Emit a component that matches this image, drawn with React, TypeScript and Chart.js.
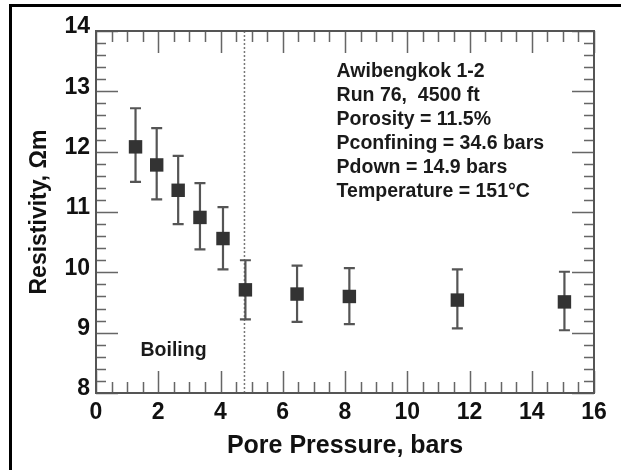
import React, { useEffect, useRef } from "react";
import { Chart, registerables } from "chart.js";

Chart.register(...registerables);

// ---- data ----
const xValues = [1.27, 1.95, 2.64, 3.34, 4.08, 4.8, 6.46, 8.14, 11.61, 15.05];
const yValues = [12.08, 11.78, 11.36, 10.91, 10.56, 9.71, 9.64, 9.6, 9.54, 9.51];
const yUpper = [12.72, 12.39, 11.93, 11.48, 11.08, 10.2, 10.11, 10.07, 10.05, 10.01];
const yLower = [11.5, 11.21, 10.8, 10.38, 10.05, 9.22, 9.18, 9.14, 9.07, 9.04];

const xRange = [0, 16];
const yRange = [8, 14];
const xMajorStep = 2;
const xMinorStep = 0.5;
const yMajorStep = 1;
const yMinorStep = 0.2;

const boilingX = 4.77;
const infoLines = [
  "Awibengkok 1-2",
  "Run 76,  4500 ft",
  "Porosity = 11.5%",
  "Pconfining = 34.6 bars",
  "Pdown = 14.9 bars",
  "Temperature = 151\u00B0C",
];
const infoAnchor = { x: 7.73, y: 13.33 };
const boilingLabel = "Boiling";
const boilingAnchor = { x: 1.43, y: 8.7 };

const FONT = "'Liberation Sans', Arial, Helvetica, sans-serif";

const decorPlugin = {
  id: "decor",
  beforeDatasetsDraw(chart: any) {
    const { ctx, chartArea, scales } = chart;
    const xs = scales.x;
    const ys = scales.y;
    const { left, right, top, bottom } = chartArea;
    ctx.save();

    // dotted boiling line
    ctx.strokeStyle = "#777";
    ctx.lineWidth = 1.5;
    ctx.setLineDash([2, 2]);
    const bx = xs.getPixelForValue(boilingX);
    ctx.beginPath();
    ctx.moveTo(bx, top);
    ctx.lineTo(bx, bottom);
    ctx.stroke();
    ctx.setLineDash([]);

    // ticks
    ctx.strokeStyle = "#666";
    ctx.lineWidth = 1.5;
    const majorLen = 22;
    const minorLen = 11;
    ctx.beginPath();
    for (let v = xRange[0]; v <= xRange[1] + 1e-9; v += xMinorStep) {
      const isMajor = Math.abs(v / xMajorStep - Math.round(v / xMajorStep)) < 1e-6;
      const len = isMajor ? majorLen : minorLen;
      const px = Math.round(xs.getPixelForValue(v)) + 0.5;
      ctx.moveTo(px, bottom);
      ctx.lineTo(px, bottom - len);
      ctx.moveTo(px, top);
      ctx.lineTo(px, top + len);
    }
    for (let v = yRange[0]; v <= yRange[1] + 1e-9; v += yMinorStep) {
      const isMajor = Math.abs(v / yMajorStep - Math.round(v / yMajorStep)) < 1e-6;
      const len = isMajor ? majorLen : minorLen - 1;
      const py = Math.round(ys.getPixelForValue(v)) + 0.5;
      ctx.moveTo(left, py);
      ctx.lineTo(left + len, py);
      ctx.moveTo(right, py);
      ctx.lineTo(right - len, py);
    }
    ctx.stroke();

    // frame
    ctx.strokeStyle = "#555";
    ctx.lineWidth = 2;
    ctx.strokeRect(left, top, right - left, bottom - top);

    // error bars
    ctx.strokeStyle = "#555";
    ctx.lineWidth = 2.2;
    const cap = 5.5;
    ctx.beginPath();
    for (let i = 0; i < xValues.length; i++) {
      const px = xs.getPixelForValue(xValues[i]);
      const pu = ys.getPixelForValue(yUpper[i]);
      const pl = ys.getPixelForValue(yLower[i]);
      ctx.moveTo(px, pu);
      ctx.lineTo(px, pl);
      ctx.moveTo(px - cap, pu);
      ctx.lineTo(px + cap, pu);
      ctx.moveTo(px - cap, pl);
      ctx.lineTo(px + cap, pl);
    }
    ctx.stroke();
    ctx.restore();
  },
  afterDraw(chart: any) {
    const { ctx, scales } = chart;
    const xs = scales.x;
    const ys = scales.y;
    ctx.save();
    ctx.fillStyle = "#1a1a1a";
    ctx.font = `bold 19.5px ${FONT}`;
    ctx.textAlign = "left";
    ctx.textBaseline = "middle";
    const ix = xs.getPixelForValue(infoAnchor.x);
    const iy = ys.getPixelForValue(infoAnchor.y);
    infoLines.forEach((t, i) => ctx.fillText(t, ix, iy + i * 24));
    ctx.fillText(
      boilingLabel,
      xs.getPixelForValue(boilingAnchor.x),
      ys.getPixelForValue(boilingAnchor.y)
    );

    // outer border of the figure
    ctx.strokeStyle = "#000";
    ctx.lineWidth = 3;
    ctx.strokeRect(10.5, 5.5, 1000, 1000);
    ctx.restore();
  },
};

export default function App() {
  const ref = useRef<HTMLCanvasElement | null>(null);
  useEffect(() => {
    if (!ref.current) return;
    const chart = new Chart(ref.current, {
      type: "scatter",
      data: {
        datasets: [
          {
            label: "Resistivity",
            data: xValues.map((x, i) => ({ x, y: yValues[i] })),
            pointStyle: "rect",
            pointRadius: 9.5,
            backgroundColor: "#333",
            borderWidth: 0,
            showLine: false,
          },
        ],
      },
      options: {
        animation: false,
        responsive: false,
        devicePixelRatio: 1,
        layout: { padding: { top: 31, right: 27, left: 0, bottom: 0 } },
        plugins: { legend: { display: false }, tooltip: { enabled: false } },
        scales: {
          x: {
            type: "linear",
            min: xRange[0],
            max: xRange[1],
            grid: { display: false, drawTicks: false },
            border: { display: false },
            ticks: {
              stepSize: xMajorStep,
              autoSkip: false,
              color: "#111",
              padding: 6,
              font: { family: FONT, weight: "bold", size: 23 },
            },
            title: {
              display: true,
              text: "Pore Pressure, bars",
              color: "#111",
              font: { family: FONT, weight: "bold", size: 25 },
              padding: { top: 0, bottom: 9 },
            },
            afterFit(s: any) {
              s.height = 77;
            },
          },
          y: {
            type: "linear",
            min: yRange[0],
            max: yRange[1],
            grid: { display: false, drawTicks: false },
            border: { display: false },
            ticks: {
              stepSize: yMajorStep,
              autoSkip: false,
              color: "#111",
              padding: 6,
              labelOffset: -4,
              font: { family: FONT, weight: "bold", size: 23 },
            },
            title: {
              display: true,
              text: "Resistivity, \u03A9m",
              color: "#111",
              font: { family: FONT, weight: "bold", size: 23 },
              padding: { top: 26, bottom: 0 },
            },
            afterFit(s: any) {
              s.width = 96;
            },
          },
        },
      },
      plugins: [decorPlugin],
    } as any);
    return () => chart.destroy();
  }, []);
  return (
    <div style={{ position: "fixed", left: 0, top: 0, width: 621, height: 470, background: "#fff" }}>
      <canvas ref={ref} width={621} height={470} style={{ width: 621, height: 470, display: "block" }} />
    </div>
  );
}
